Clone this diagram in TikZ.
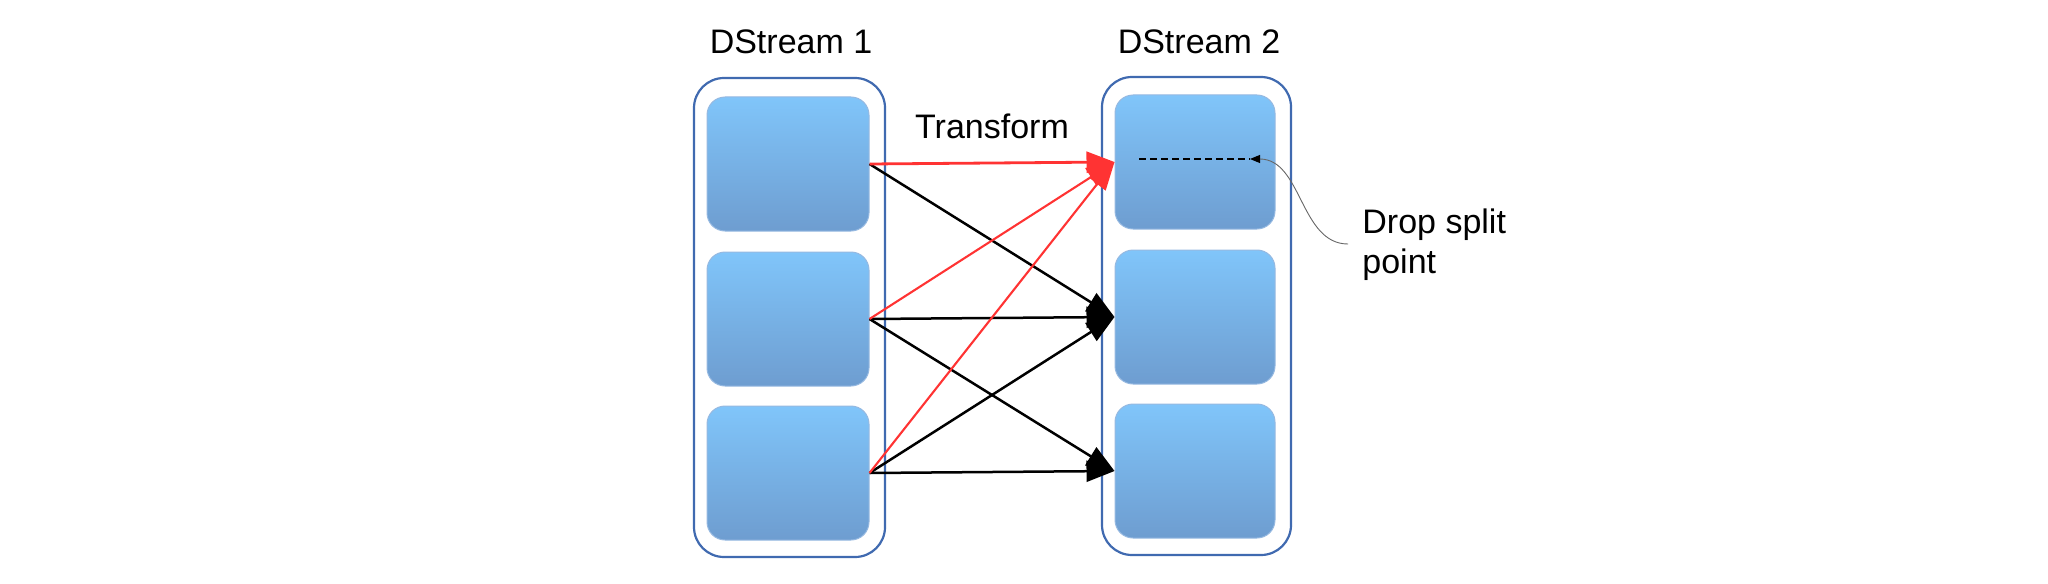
\documentclass[tikz,border=0pt]{standalone}
\usepackage{fontspec}
\setmainfont{Liberation Sans}
\usetikzlibrary{arrows.meta}
\definecolor{boxtop}{RGB}{128,197,250}
\definecolor{boxbot}{RGB}{110,157,208}
\definecolor{boxedge}{RGB}{150,185,225}
\definecolor{contedge}{RGB}{64,106,176}
\definecolor{tred}{RGB}{255,51,51}
\begin{document}
\begin{tikzpicture}[x=0.5pt,y=-0.5pt,
  lbl/.style={font=\fontsize{17pt}{20pt}\selectfont, inner sep=0pt},
  cont/.style={draw=contedge, line width=1.1pt, rounded corners=15pt, inner sep=0pt},
  box/.style={draw=boxedge, line width=0.5pt, rounded corners=9pt, top color=boxtop, bottom color=boxbot, inner sep=0pt, minimum height=67pt},
  redarr/.style={draw=tred, line width=1.05pt, -{Triangle[length=14pt,width=10.5pt]}},
  blkarr/.style={draw=black, line width=1.25pt, -{Triangle[length=14pt,width=10.5pt]}},
  callout/.style={draw=black!60, line width=0.45pt, -{Triangle[length=5pt,width=4pt,color=black]}}
]
\useasboundingbox (0,0) rectangle (2048,583);
% containers
\node[cont, minimum width=95.5pt, minimum height=239.5pt] (C1) at (789.5,317.5) {};
\node[cont, minimum width=94.5pt, minimum height=239pt] (C2) at (1196.5,316) {};
% labels
\node[lbl, anchor=base] (T1) at (791,54) {DStream 1};
\node[lbl, anchor=base] (T2) at (1199,54) {DStream 2};
\node[lbl, anchor=base] (TR) at (992,138) {Transform};
% boxes
\node[box, minimum width=81pt] (L1) at (788,164) {};
\node[box, minimum width=81pt] (L2) at (788,319) {};
\node[box, minimum width=81pt] (L3) at (788,473) {};
\node[box, minimum width=80pt] (R1) at (1195,162) {};
\node[box, minimum width=80pt] (R2) at (1195,317) {};
\node[box, minimum width=80pt] (R3) at (1195,471) {};
% arrows
\draw[blkarr] (L1.east) -- (R2.west);
\draw[blkarr] (L2.east) -- (R2.west);
\draw[blkarr] (L2.east) -- (R3.west);
\draw[blkarr] (L3.east) -- (R2.west);
\draw[blkarr] (L3.east) -- (R3.west);
\draw[redarr, line width=1.4pt] (L1.east) -- (R1.west);
\draw[redarr] (L2.east) -- (R1.west);
\draw[redarr] (L3.east) -- (R1.west);
% dashed split line
\coordinate (d1) at (1139,159);
\coordinate (d2) at (1250,159);
\draw[line width=1.25pt, dash pattern=on 3.3pt off 2.2pt] (d1) -- (d2);
% note
\node[lbl, anchor=base west, align=left] (note) at (1362,273) {Drop split\\point};
\coordinate (cs) at (1348,244);
\draw[callout] (cs) .. controls (1300,244) and (1302,159) .. (d2);
\end{tikzpicture}
\end{document}
